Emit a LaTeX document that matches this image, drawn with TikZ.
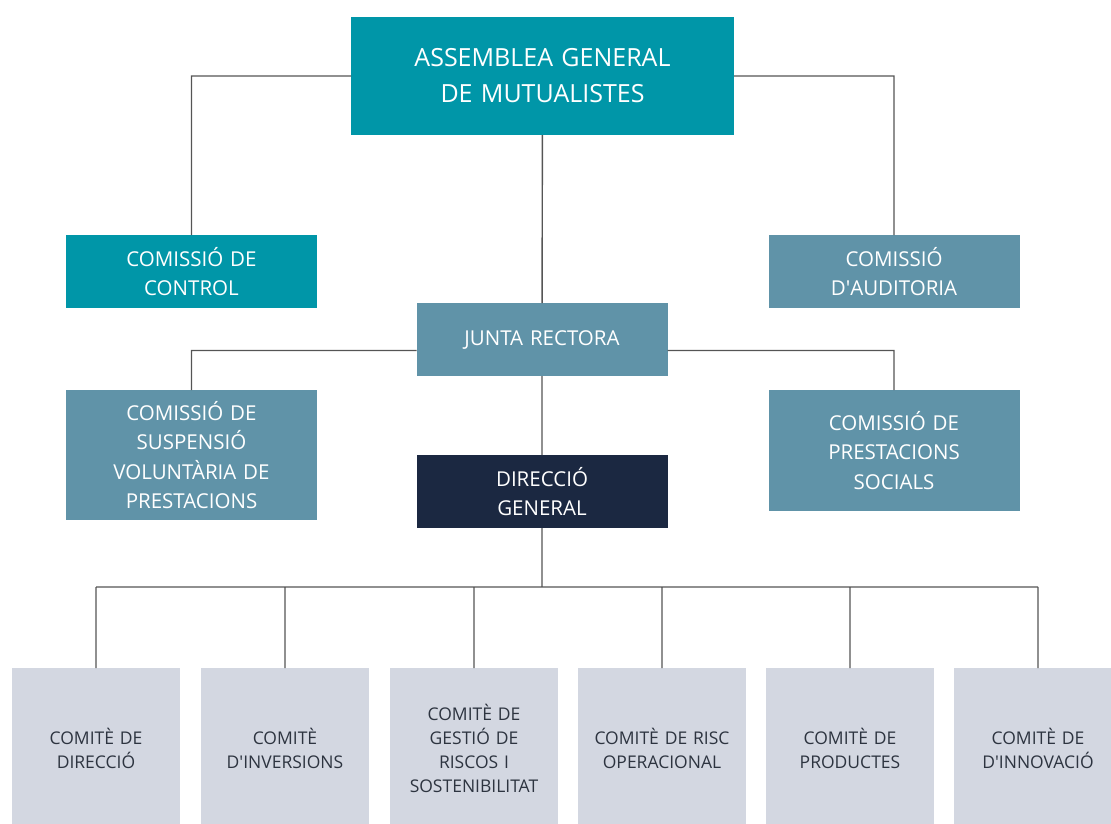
\documentclass[tikz,border=0pt]{standalone}
\usepackage{fontspec}
\setmainfont{Open Sans}
\usetikzlibrary{positioning}
\definecolor{tealbox}{RGB}{0,150,168}
\definecolor{steelbox}{RGB}{96,147,168}
\definecolor{navybox}{RGB}{27,40,65}
\definecolor{greybox}{RGB}{211,215,225}
\definecolor{linegrey}{RGB}{85,85,85}
\definecolor{comitetext}{RGB}{45,52,64}
\tikzset{
    box/.style={rectangle, inner sep=0pt, outer sep=0pt, align=center},
    org/.style={box, text=white, minimum width=251pt, minimum height=73pt,
        text width=240pt, font=\fontsize{20.5}{29.5}\selectfont},
    comite/.style={box, fill=greybox, text=comitetext, minimum width=168pt,
        minimum height=160pt, text width=160pt, font=\fontsize{17.5}{24}\selectfont},
    link/.style={draw=linegrey, line width=1.4pt}
}

\begin{document}
\begin{tikzpicture}[x=1pt, y=-1pt]
    \useasboundingbox (0,0) rectangle (1111,823);
    % governing bodies
        \node[org, fill=tealbox, minimum width=383pt, minimum height=118pt, text width=370pt,
            font=\fontsize{25}{36}\selectfont] (assemblea) at (542.5,76)
            {ASSEMBLEA GENERAL\\DE MUTUALISTES};
        \node[org, fill=tealbox] (control) at (191.5,271.5) {COMISSIÓ DE\\CONTROL};
        \node[org, fill=steelbox] (auditoria) at (894,271.5) {COMISSIÓ\\D\textquotesingle AUDITORIA};
        \node[org, fill=steelbox] (junta) at (542,339.5) {JUNTA RECTORA};
        \node[org, fill=steelbox, minimum height=130pt] (suspensio) at (191.5,455)
            {COMISSIÓ DE\\SUSPENSIÓ\\VOLUNTÀRIA DE\\PRESTACIONS};
        \node[org, fill=steelbox, minimum height=121pt] (socials) at (894,450.5)
            {COMISSIÓ DE\\PRESTACIONS\\SOCIALS};
        \node[org, fill=navybox] (direccio) at (542,491.5) {DIRECCIÓ\\GENERAL};
    % committees
        \node[comite] (c1) at (96,748) {COMITÈ DE\\DIRECCIÓ};
        \node[comite, right=21pt of c1] (c2) {COMITÈ\\D\textquotesingle INVERSIONS};
        \node[comite, right=21pt of c2] (c3) {COMITÈ DE\\GESTIÓ DE\\RISCOS I\\SOSTENIBILITAT};
        \node[comite, right=20pt of c3] (c4) {COMITÈ DE RISC\\OPERACIONAL};
        \node[comite, right=20pt of c4] (c5) {COMITÈ DE\\PRODUCTES};
        \node[comite, right=20pt of c5] (c6) {COMITÈ DE\\D\textquotesingle INNOVACIÓ};
        \coordinate (bus) at (542,587);
        \draw[link]
            (assemblea.west) -| (control.north)
            (assemblea.east) -| (auditoria.north)
            (assemblea) -- (junta)
            ([yshift=-11pt]junta.west) -| (suspensio.north)
            ([yshift=-11pt]junta.east) -| (socials.north)
            (junta) -- (direccio)
            (direccio) -- (bus)
            (bus -| c1.north) -- (bus -| c6.north)
            (bus -| c1.north) -- (c1.north)
            (bus -| c2.north) -- (c2.north)
            (bus -| c3.north) -- (c3.north)
            (bus -| c4.north) -- (c4.north)
            (bus -| c5.north) -- (c5.north)
            (bus -| c6.north) -- (c6.north);

    \end{tikzpicture}
\end{document}
